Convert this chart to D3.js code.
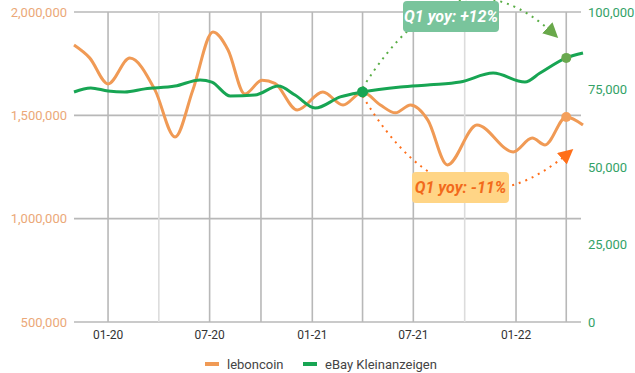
<!DOCTYPE html>
<html>
<head>
<meta charset="utf-8">
<script src="https://cdn.jsdelivr.net/npm/d3@7"></script>
<style>
  body { margin: 0; background: #fff; font-family: Roboto, "Open Sans", sans-serif; }
</style>
</head>
<body>
<svg id="chart" width="635" height="373"></svg>
<script>
// leboncoin (left axis)
const lbcDates = ["2019-11-01","2019-11-29","2020-01-01","2020-02-09","2020-03-25","2020-04-30","2020-06-01","2020-07-07","2020-08-03","2020-09-02","2020-10-03","2020-10-26","2020-12-05","2021-01-20","2021-02-25","2021-04-01","2021-05-03","2021-05-30","2021-06-26","2021-07-27","2021-08-31","2021-10-23","2021-12-27","2022-01-30","2022-02-22","2022-04-01","2022-05-01"];
const lbcValues = [1840000,1778000,1652000,1777000,1623000,1395000,1623000,1903000,1816000,1603000,1670000,1655000,1526000,1613000,1550000,1613000,1550000,1512000,1550000,1477000,1260000,1453000,1323000,1390000,1357000,1492000,1453000];

// eBay Kleinanzeigen (right axis)
const ebkDates = ["2019-11-01","2019-12-01","2020-01-01","2020-01-31","2020-03-07","2020-04-30","2020-06-14","2020-07-05","2020-08-07","2020-09-20","2020-11-01","2020-12-01","2021-01-06","2021-02-20","2021-04-01","2021-06-08","2021-07-31","2021-09-23","2021-11-21","2022-01-17","2022-02-13","2022-04-01","2022-05-01"];
const ebkValues = [74200,75500,74500,74200,75200,76100,78100,77400,72900,73200,76100,73200,69000,72600,74200,75800,76500,77400,80300,77400,80300,85200,86800];

const leftTicks = [500000, 1000000, 1500000, 2000000];
const rightTicks = [0, 25000, 50000, 75000, 100000];
const gridDates = ["2020-01-01","2020-04-01","2020-07-01","2020-10-01","2021-01-01","2021-04-01","2021-07-01","2021-10-01","2022-01-01","2022-04-01"];
const labelDates = ["2020-01-01","2020-07-01","2021-01-01","2021-07-01","2022-01-01"];
const highlightDates = ["2021-04-01", "2022-04-01"];
const seriesNames = ["leboncoin", "eBay Kleinanzeigen"];
const annotations = ["Q1 yoy: +12%", "Q1 yoy: -11%"];

const parse = d3.utcParse("%Y-%m-%d");
const fmt = d3.format(",");
const orange = "#f09a55", green = "#17a553";

const margin = { top: 12, right: 54, bottom: 51, left: 74 };
const width = 635, height = 373;

const svg = d3.select("#chart");

const x = d3.scaleUtc()
  .domain([parse("2019-11-01"), parse("2022-05-01")])
  .range([margin.left, 583]);
const yL = d3.scaleLinear().domain([500000, 2000000]).range([height - margin.bottom, margin.top]);
const yR = d3.scaleLinear().domain([0, 100000]).range([height - margin.bottom, margin.top]);

const lbc = lbcDates.map((d, i) => ({ date: parse(d), value: lbcValues[i] }));
const ebk = ebkDates.map((d, i) => ({ date: parse(d), value: ebkValues[i] }));

// grid lines
const grid = svg.append("g").attr("stroke", "#b8b8b8").attr("stroke-width", 1.6);
grid.selectAll(".h").data(leftTicks).join("line")
  .attr("x1", margin.left).attr("x2", 581)
  .attr("y1", d => yL(d)).attr("y2", d => yL(d));
grid.selectAll(".v").data(gridDates).join("line")
  .attr("x1", d => x(parse(d))).attr("x2", d => x(parse(d)))
  .attr("y1", margin.top).attr("y2", yL(500000))
  .attr("stroke", (d, i) => (i === 1 || i === 7) ? "#dcdcdc" : null);

// axis labels
svg.append("g").selectAll("text").data(leftTicks).join("text")
  .attr("x", 67).attr("y", d => yL(d)).attr("dy", "0.35em")
  .attr("text-anchor", "end").attr("font-size", 13).attr("fill", "#eba878")
  .text(d => fmt(d));
svg.append("g").selectAll("text").data(rightTicks).join("text")
  .attr("x", 588).attr("y", d => yR(d)).attr("dy", "0.35em")
  .attr("font-size", 13).attr("fill", "#33a267")
  .text(d => fmt(d));
svg.append("g").selectAll("text").data(labelDates).join("text")
  .attr("x", d => x(parse(d))).attr("y", 339)
  .attr("text-anchor", "middle").attr("font-size", 12).attr("fill", "#333")
  .text(d => d3.utcFormat("%m-%y")(parse(d)));

// lines
const lineL = d3.line().x(d => x(d.date)).y(d => yL(d.value)).curve(d3.curveMonotoneX);
const lineR = d3.line().x(d => x(d.date)).y(d => yR(d.value)).curve(d3.curveMonotoneX);
svg.append("path").datum(lbc).attr("d", lineL)
  .attr("fill", "none").attr("stroke", orange).attr("stroke-width", 3);
svg.append("path").datum(ebk).attr("d", lineR)
  .attr("fill", "none").attr("stroke", green).attr("stroke-width", 3);

// highlighted points
const find = (arr, d) => arr.find(p => +p.date === +parse(d));
const p0L = find(lbc, highlightDates[0]), p1L = find(lbc, highlightDates[1]);
const p0R = find(ebk, highlightDates[0]), p1R = find(ebk, highlightDates[1]);

// arrow markers
const defs = svg.append("defs");
[["arrG", "#69a84a"], ["arrO", "#ff6f1a"]].forEach(([id, c]) => {
  defs.append("marker").attr("id", id).attr("viewBox", "0 0 10 10")
    .attr("refX", 8).attr("refY", 5).attr("markerWidth", 15).attr("markerHeight", 15)
    .attr("markerUnits", "userSpaceOnUse").attr("orient", "auto")
    .append("path").attr("d", "M0,0 L10,5 L0,10 Z").attr("fill", c);
});

// dotted arcs
const gA = { x: x(p0R.date), y: yR(p0R.value) - 4 }, gB = { x: 556, y: 36 };
svg.append("path")
  .attr("d", `M${gA.x},${gA.y} Q455,-60 ${gB.x},${gB.y}`)
  .attr("fill", "none").attr("stroke", "#5aae46").attr("stroke-width", 2)
  .attr("stroke-dasharray", "2,5").attr("marker-end", "url(#arrG)");
const oA = { x: x(p0L.date), y: yL(p0L.value) + 4 }, oB = { x: 571, y: 151 };
svg.append("path")
  .attr("d", `M${oA.x},${oA.y} Q455,250 ${oB.x},${oB.y}`)
  .attr("fill", "none").attr("stroke", "#ff6f1a").attr("stroke-width", 2)
  .attr("stroke-dasharray", "2,5").attr("marker-end", "url(#arrO)");

// points
svg.append("circle").attr("cx", x(p1L.date)).attr("cy", yL(p1L.value)).attr("r", 5).attr("fill", "#f4a05c");
svg.append("circle").attr("cx", x(p0L.date)).attr("cy", yL(p0L.value)).attr("r", 5).attr("fill", orange);
svg.append("circle").attr("cx", x(p0R.date)).attr("cy", yR(p0R.value)).attr("r", 5.5).attr("fill", green);
svg.append("circle").attr("cx", x(p1R.date)).attr("cy", yR(p1R.value)).attr("r", 5).attr("fill", "#6aa84f");

// annotation boxes
const boxes = [
  { x: 403, y: 1, w: 96, h: 31, fill: "#79c49c", color: "#fff", text: annotations[0] },
  { x: 412, y: 172, w: 97, h: 31, fill: "#ffd586", color: "#f26a1b", text: annotations[1] }
];
const bg = svg.append("g").selectAll("g").data(boxes).join("g");
bg.append("rect").attr("x", d => d.x).attr("y", d => d.y).attr("width", d => d.w).attr("height", d => d.h)
  .attr("rx", 4).attr("fill", d => d.fill);
bg.append("text").attr("x", d => d.x + d.w / 2).attr("y", d => d.y + d.h / 2).attr("dy", "0.36em")
  .attr("text-anchor", "middle").attr("font-size", 16).attr("font-weight", "bold").attr("font-style", "italic")
  .attr("fill", d => d.color).text(d => d.text);

// legend
const legend = svg.append("g").selectAll("g").data(seriesNames).join("g")
  .attr("transform", (d, i) => `translate(${i === 0 ? 205 : 303},364)`);
legend.append("rect").attr("x", 0).attr("y", -2).attr("width", 14).attr("height", 4)
  .attr("fill", (d, i) => i === 0 ? orange : green);
legend.append("text").attr("x", 22).attr("y", 0).attr("dy", "0.35em")
  .attr("font-size", 13).attr("fill", "#444").text(d => d);
</script>
</body>
</html>
